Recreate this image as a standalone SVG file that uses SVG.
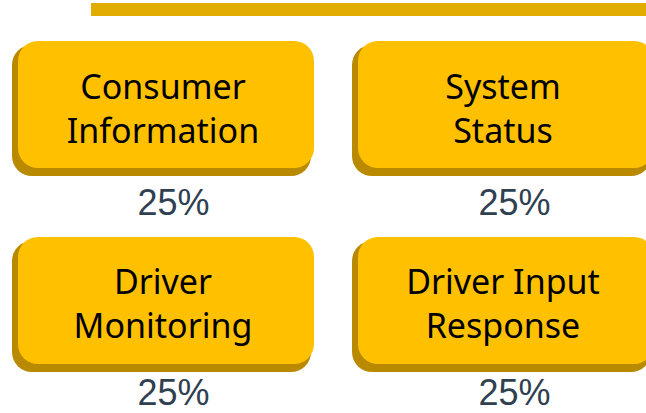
<svg xmlns="http://www.w3.org/2000/svg" width="646" height="413" viewBox="0 0 646 413">
<style>
.face{fill:#FFC000}
.shadow{fill:#B98A00}
.lbl{font-family:"Noto Sans","Open Sans",sans-serif;font-size:34px;fill:#000;text-anchor:middle}
.pct{font-family:"Liberation Sans",Arial,sans-serif;font-size:36px;fill:#2F4051;text-anchor:middle}
</style>
<rect x="91" y="3" width="560" height="13" fill="#E3AC00"/>
<g id="node-consumer-information">
<rect class="shadow" x="12" y="45" width="299" height="131" rx="20"/>
<rect class="face" x="18" y="41" width="296" height="127" rx="20"/>
<text class="lbl" x="163" y="99">Consumer</text>
<text class="lbl" x="163" y="143">Information</text>
<text class="pct" x="173.5" y="215">25%</text>
</g>
<g id="node-system-status">
<rect class="shadow" x="352" y="45" width="299" height="131" rx="20"/>
<rect class="face" x="358" y="41" width="296" height="127" rx="20"/>
<text class="lbl" x="503" y="99">System</text>
<text class="lbl" x="503" y="143">Status</text>
<text class="pct" x="514.5" y="215">25%</text>
</g>
<g id="node-driver-monitoring">
<rect class="shadow" x="12" y="241" width="299" height="131" rx="20"/>
<rect class="face" x="18" y="237" width="296" height="127" rx="20"/>
<text class="lbl" x="163" y="294">Driver</text>
<text class="lbl" x="163" y="338">Monitoring</text>
<text class="pct" x="173.5" y="405">25%</text>
</g>
<g id="node-driver-input-response">
<rect class="shadow" x="352" y="241" width="299" height="131" rx="20"/>
<rect class="face" x="358" y="237" width="296" height="127" rx="20"/>
<text class="lbl" x="503" y="294">Driver Input</text>
<text class="lbl" x="503" y="338">Response</text>
<text class="pct" x="514.5" y="405">25%</text>
</g>
<g id="connectors"></g>
</svg>
